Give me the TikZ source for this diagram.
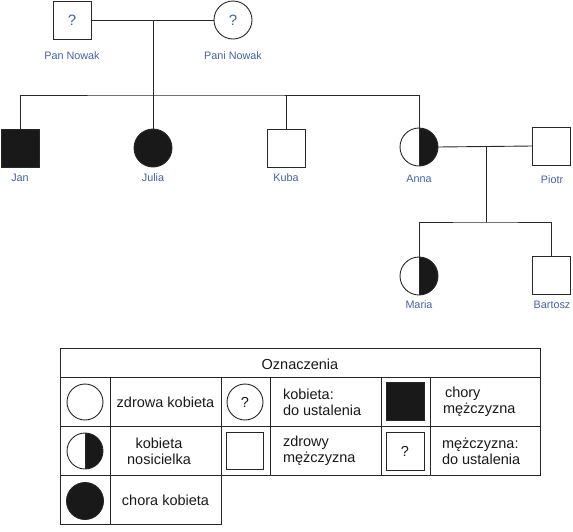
\documentclass[tikz,border=0pt]{standalone}
\usepackage{fontspec}
\setmainfont{Liberation Sans}
\definecolor{lblblue}{RGB}{72,98,158}
\definecolor{lineg}{RGB}{40,40,40}
\begin{document}
\begin{tikzpicture}[x=1pt,y=-1pt,
  every node/.style={inner sep=0pt,outer sep=0pt},
  male/.style={draw=lineg,line width=0.9pt,rectangle,minimum size=38pt},
  female/.style={draw=lineg,line width=0.9pt,circle,minimum size=38pt},
  affected/.style={fill=black!90},
  carrier/.style={path picture={
     \fill[black!90] (path picture bounding box.north) rectangle (path picture bounding box.south east);
     \draw[lineg,line width=0.9pt] (path picture bounding box.north) -- (path picture bounding box.south);}},
  lbl/.style={text=lblblue,font=\fontsize{10.8}{13}\selectfont},
  qm/.style={text=lblblue,font=\fontsize{15}{18}\selectfont},
  con/.style={draw=lineg,line width=0.9pt},
  leg/.style={draw=black!85,line width=1pt},
  legtxt/.style={text=black!90,font=\fontsize{14.5}{16}\selectfont},
  lsym/.style={line width=0.9pt,draw=black!85}
]
\useasboundingbox (0,0) rectangle (573,531);

% Pedigree
\node[male,qm] (pan) at (72,20) {?};
\node[female,qm] (pani) at (233,20) {?};
\node[lbl] (panl) at (72,56) {Pan Nowak};
\node[lbl] (panil) at (233,56) {Pani Nowak};

\node[male,affected] (jan) at (20,148) {};
\node[female,affected] (julia) at (153,148) {};
\node[male] (kuba) at (286,148) {};
\node[female,carrier] (anna) at (419,147) {};
\node[male] (piotr) at (551,146) {};
\node[female,carrier] (maria) at (419,276) {};
\node[male] (bartosz) at (551,275) {};

\node[lbl] (janl) at (20,178) {Jan};
\node[lbl] (julial) at (153,178) {Julia};
\node[lbl] (kubal) at (286,178) {Kuba};
\node[lbl] (annal) at (419,179) {Anna};
\node[lbl] (piotrl) at (552,180) {Piotr};
\node[lbl] (marial) at (419,305) {Maria};
\node[lbl] (bartoszl) at (552,305) {Bartosz};

\coordinate (m1) at (153,20);
\coordinate (s1) at (153,95);
\coordinate (m2) at (486,147);
\coordinate (s2) at (486,222);

\draw[con] (pan.east) -- (pani.west);
\draw[con] (m1) -- (julia.north);
\draw[con] (jan.north) |- (s1) -| (anna.north);
\draw[con] (kuba.north) -- (kuba.north |- s1);
\draw[con] (anna.east) -- (piotr.west);
\draw[con] (m2) -- (s2);
\draw[con] (maria.north) |- (s2) -| (bartosz.north);

% Legend table
\draw[leg] (60,348) rectangle (540,475);
\draw[leg] (60,377) -- (540,377);
\draw[leg] (60,426) -- (540,426);
\draw[leg] (60,475) -- (60,524) -- (221,524) -- (221,475);
\draw[leg] (110,377) -- (110,524);
\draw[leg] (221,377) -- (221,475);
\draw[leg] (270,377) -- (270,475);
\draw[leg] (381,377) -- (381,475);
\draw[leg] (430,377) -- (430,475);

\node[legtxt] (title) at (300,364) {Oznaczenia};

% legend symbols
\node[lsym,circle,minimum size=36pt] (l1) at (85,402) {};
\node[lsym,circle,minimum size=36pt,carrier] (l2) at (85,451) {};
\node[lsym,circle,minimum size=37pt,fill=black!90] (l3) at (85,501) {};
\node[lsym,circle,minimum size=36pt,legtxt] (l4) at (245,402) {?};
\node[lsym,rectangle,minimum size=37pt] (l5) at (244.5,451) {};
\node[lsym,rectangle,minimum size=38pt,fill=black!90] (l6) at (405,401) {};
\node[lsym,rectangle,minimum size=38pt,legtxt] (l7) at (405,451) {?};

% legend texts
\node[legtxt] (t1) at (165.5,402) {zdrowa kobieta};
\node[legtxt,align=center] (t2) at (159,451) {kobieta\\nosicielka};
\node[legtxt] (t3) at (165.5,500) {chora kobieta};
\node[legtxt,align=left,anchor=west] (t4) at (283,402) {kobieta:\\do ustalenia};
\node[legtxt,align=left,anchor=west] (t5) at (283,451) {zdrowy\\mężczyzna};
\node[legtxt,align=left,anchor=west] (t6) at (443,402) {\hspace*{2pt}chory\\mężczyzna};
\node[legtxt,align=left,anchor=west] (t7) at (442,451) {mężczyzna:\\do ustalenia};
\end{tikzpicture}
\end{document}
